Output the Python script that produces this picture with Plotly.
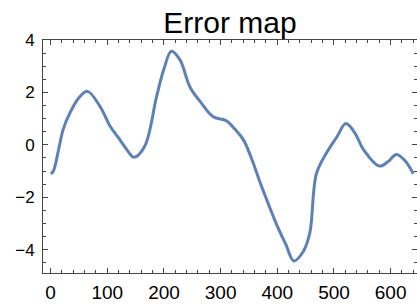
import plotly.graph_objects as go

x_vals = [0, 4, 8, 15, 22, 34, 50, 65, 87, 105, 122, 135, 147, 166, 187, 200, 213, 228, 246, 264,
          287, 310, 325, 340, 355, 369, 385, 399, 415, 429, 445, 457, 469, 487, 505, 521,
          537, 552, 580, 595, 610, 625, 640]
y_vals = [-1.1, -1.03, -0.78, -0.08, 0.58, 1.22, 1.8, 2.04, 1.47, 0.71, 0.2, -0.2, -0.47, -0.05,
          1.85, 2.9, 3.57, 3.25, 2.2, 1.65, 1.07, 0.92, 0.6, 0.2, -0.55, -1.4, -2.3, -3.05, -3.8,
          -4.43, -4.1, -3.4, -1.1, -0.3, 0.3, 0.81, 0.45, -0.18, -0.81, -0.65, -0.37, -0.6, -1.1]
x_ticks = [0, 100, 200, 300, 400, 500, 600]
y_ticks = [-4, -2, 0, 2, 4]
y_tick_text = ["\u22124", "\u22122", "0", "2", "4"]
title_text = "Error map"

fig = go.Figure()
fig.add_trace(go.Scatter(x=x_vals, y=y_vals, mode="lines",
                         line=dict(color="#5E81B5", width=3, shape="spline", smoothing=1.0),
                         showlegend=False, hoverinfo="skip"))

font_family = "Liberation Sans, Arial, sans-serif"
axis_common = dict(showline=True, linecolor="#444444", linewidth=1, mirror="allticks",
                   ticks="inside", ticklen=5, tickcolor="#444444", showgrid=False,
                   zeroline=False, automargin=False)
fig.update_layout(
    width=417, height=304,
    margin=dict(l=43, r=0, t=40, b=31),
    paper_bgcolor="white", plot_bgcolor="white",
    title=dict(text=title_text, x=(43 + 417) / 2 / 417, xanchor="center",
               y=1 - 22 / 304, yanchor="middle", yref="container",
               font=dict(family=font_family, size=30, color="black")),
    xaxis=dict(range=[-13.5, 646.5], tickvals=x_ticks,
               minor=dict(ticks="inside", ticklen=3, dtick=20, tick0=0, tickcolor="#444444"),
               tickfont=dict(family=font_family, size=19, color="black"),
               ticklabelstandoff=2, **axis_common),
    yaxis=dict(range=[-4.89, 4], tickvals=y_ticks, ticktext=y_tick_text,
               minor=dict(ticks="inside", ticklen=3, dtick=0.5, tick0=0, tickcolor="#444444"),
               tickfont=dict(family=font_family, size=17, color="black"),
               ticklabelstandoff=4, **axis_common),
)
fig.write_html("out.html", config={"displayModeBar": False},
               post_script="document.body.style.margin='0px';")
